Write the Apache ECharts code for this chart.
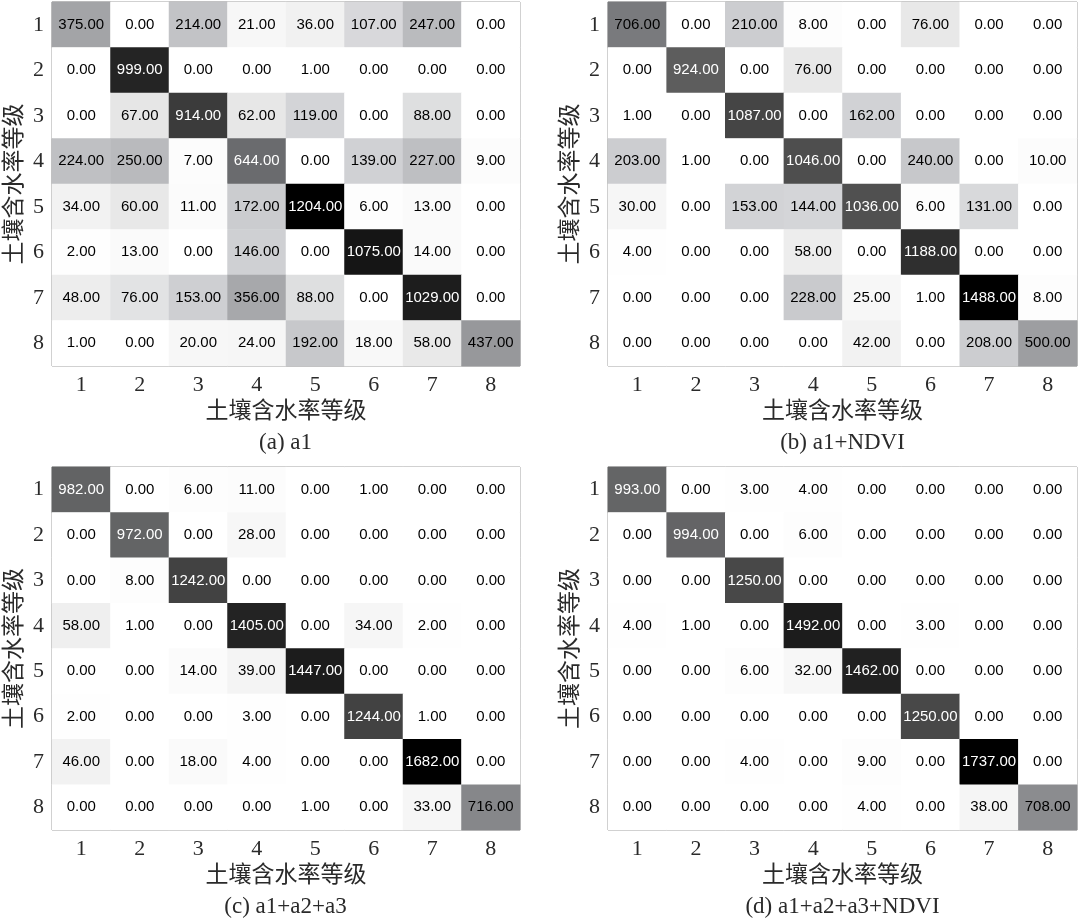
<!DOCTYPE html>
<html>
<head>
<meta charset="utf-8">
<script src="https://cdn.jsdelivr.net/npm/echarts@6/dist/echarts.min.js"></script>
<style>
html,body{margin:0;padding:0;background:#fff;}
#chart{width:1080px;height:921px;}
</style>
</head>
<body>
<div id="chart"></div>
<script>
const categories = ['1','2','3','4','5','6','7','8'];
const axisName = '土壤含水率等级';
const captions = ['(a) a1', '(b) a1+NDVI', '(c) a1+a2+a3', '(d) a1+a2+a3+NDVI'];

const matrixA = [
  [375,0,214,21,36,107,247,0],
  [0,999,0,0,1,0,0,0],
  [0,67,914,62,119,0,88,0],
  [224,250,7,644,0,139,227,9],
  [34,60,11,172,1204,6,13,0],
  [2,13,0,146,0,1075,14,0],
  [48,76,153,356,88,0,1029,0],
  [1,0,20,24,192,18,58,437]
];
const matrixB = [
  [706,0,210,8,0,76,0,0],
  [0,924,0,76,0,0,0,0],
  [1,0,1087,0,162,0,0,0],
  [203,1,0,1046,0,240,0,10],
  [30,0,153,144,1036,6,131,0],
  [4,0,0,58,0,1188,0,0],
  [0,0,0,228,25,1,1488,8],
  [0,0,0,0,42,0,208,500]
];
const matrixC = [
  [982,0,6,11,0,1,0,0],
  [0,972,0,28,0,0,0,0],
  [0,8,1242,0,0,0,0,0],
  [58,1,0,1405,0,34,2,0],
  [0,0,14,39,1447,0,0,0],
  [2,0,0,3,0,1244,1,0],
  [46,0,18,4,0,0,1682,0],
  [0,0,0,0,1,0,33,716]
];
const matrixD = [
  [993,0,3,4,0,0,0,0],
  [0,994,0,6,0,0,0,0],
  [0,0,1250,0,0,0,0,0],
  [4,1,0,1492,0,3,0,0],
  [0,0,6,32,1462,0,0,0],
  [0,0,0,0,0,1250,0,0],
  [0,0,4,0,9,0,1737,0],
  [0,0,0,0,4,0,38,708]
];
const matrices = [matrixA, matrixB, matrixC, matrixD];

const gridBoxes = [
  {left:51, top:2, width:469, height:364},
  {left:608, top:2, width:469, height:364},
  {left:51, top:467, width:469, height:363},
  {left:608, top:467, width:469, height:363}
];
// gray ramp (evenly spaced stops from 0 to max)
const grayLevels = [255,232,212,203,188,177,167,155,142,129,115,104,96,88,79,62,46,30,20,10,0];
const grayStops = grayLevels.map((g, k) => {
  const t = (k > 1 && k < 12) ? 3 : 0;
  const r = Math.max(0, g - (t ? 1 : 0)), b = Math.min(255, g + t);
  return 'rgb(' + r + ',' + g + ',' + b + ')';
});
const serif = 'Liberation Serif';
const cjk = 'Noto Sans CJK SC';

const grid = [], xAxis = [], yAxis = [], series = [], visualMap = [], graphic = [];
matrices.forEach((m, i) => {
  const max = Math.max(...m.flat());
  grid.push(Object.assign({show:true, borderColor:'#858585', borderWidth:1, backgroundColor:'#fff'}, gridBoxes[i]));
  xAxis.push({
    type:'category', gridIndex:i, data:categories,
    axisLine:{show:false}, axisTick:{show:false}, splitLine:{show:false},
    axisLabel:{fontFamily:serif, fontSize:22, color:'#2a2a2a', margin:8},
    name:axisName, nameLocation:'middle', nameGap:32,
    nameTextStyle:{fontFamily:cjk, fontSize:23, color:'#2a2a2a'}
  });
  yAxis.push({
    type:'category', gridIndex:i, data:categories, inverse:true,
    axisLine:{show:false}, axisTick:{show:false}, splitLine:{show:false},
    axisLabel:{fontFamily:serif, fontSize:22, color:'#2a2a2a', margin:8},
    name:axisName, nameLocation:'middle', nameGap:28, nameRotate:90,
    nameTextStyle:{fontFamily:cjk, fontSize:23, color:'#2a2a2a'}
  });
  const data = [];
  m.forEach((row, r) => row.forEach((v, c) => {
    data.push({value:[c, r, v], label:{color: v / max > 0.5 ? '#ffffff' : '#000000',
      textBorderColor:'transparent', textBorderWidth:0}});
  }));
  series.push({
    type:'heatmap', xAxisIndex:i, yAxisIndex:i, data:data,
    label:{show:true, fontFamily:'Liberation Sans', fontSize:15,
      textBorderWidth:0, textShadowBlur:0,
      formatter: p => p.value[2].toFixed(2)},
    emphasis:{disabled:true},
    itemStyle:{borderWidth:0}
  });
  visualMap.push({
    type:'continuous', show:false, seriesIndex:i, dimension:2,
    min:0, max:max, inRange:{color:grayStops}
  });
  const box = gridBoxes[i];
  graphic.push({
    type:'text', x: box.left + box.width/2, y: box.top + box.height + 77,
    style:{text:captions[i], fontFamily:serif, fontSize:23, fill:'#2a2a2a',
      textAlign:'center', textVerticalAlign:'middle'}
  });
});

const chart = echarts.init(document.getElementById('chart'));
chart.setOption({
  backgroundColor:'#ffffff',
  animation:false,
  grid, xAxis, yAxis, series, visualMap, graphic
});
</script>
</body>
</html>
